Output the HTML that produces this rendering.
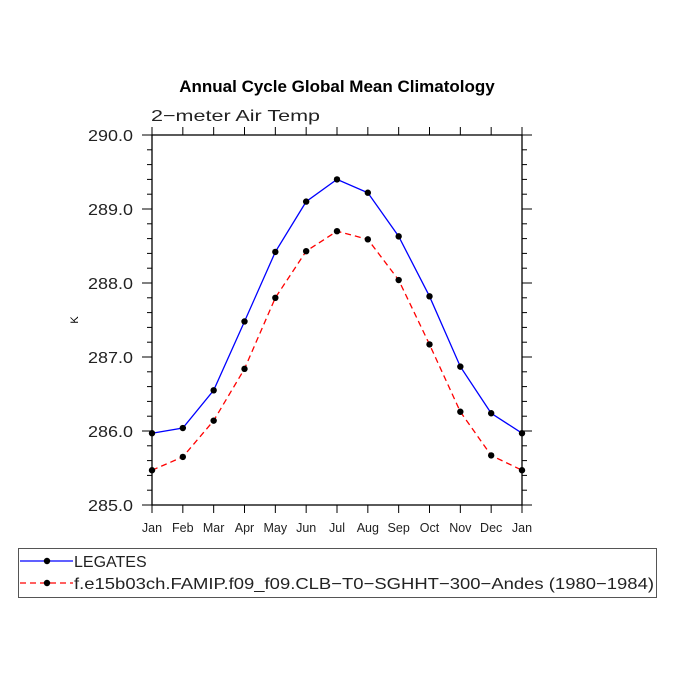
<!DOCTYPE html>
<html><head><meta charset="utf-8"><style>
html,body{margin:0;padding:0;background:#fff;}
svg{display:block;font-family:"Liberation Sans",sans-serif;}
</style></head><body>
<svg id="chart" width="675" height="675" viewBox="0 0 675 675">
<text x="337" y="92" text-anchor="middle" font-size="17" font-weight="bold">Annual Cycle Global Mean Climatology</text>
<text x="151" y="121" font-size="16" fill="#222" textLength="169" lengthAdjust="spacingAndGlyphs">2−meter Air Temp</text>
<text x="78" y="320" font-size="11" text-anchor="middle" transform="rotate(-90 78 320)">K</text>
<g id="axes"></g>
<g id="series"></g>
<g>
<rect x="18.5" y="548.5" width="638" height="49" fill="none" stroke="#555"/>
<g>
<line x1="20" y1="561" x2="73" y2="561" stroke="#0000ff" stroke-width="1.3"/>
<circle cx="47" cy="561" r="3.2" fill="#000"/>
<text x="74" y="567" font-size="16" fill="#222">LEGATES</text>
</g>
<g>
<line x1="20" y1="583" x2="73" y2="583" stroke="#ff0000" stroke-width="1.3" stroke-dasharray="6,4"/>
<circle cx="47" cy="583" r="3.2" fill="#000"/>
<text x="74" y="589" font-size="16" fill="#222" textLength="580" lengthAdjust="spacingAndGlyphs">f.e15b03ch.FAMIP.f09_f09.CLB−T0−SGHHT−300−Andes (1980−1984)</text>
</g>
</g>
</svg>
<script>
const months=["Jan","Feb","Mar","Apr","May","Jun","Jul","Aug","Sep","Oct","Nov","Dec","Jan"];
const legates=[285.97,286.04,286.55,287.48,288.42,289.10,289.40,289.22,288.63,287.82,286.87,286.24,285.97];
const model=[285.47,285.65,286.14,286.84,287.80,288.43,288.70,288.59,288.04,287.17,286.26,285.67,285.47];
const yTicks=[285,286,287,288,289,290];
const yTickLabels=["285.0","286.0","287.0","288.0","289.0","290.0"];

const L=152,R=522,T=135,B=505,yMin=285,yMax=290;
const xs=i=>L+(R-L)*i/(months.length-1);
const ys=v=>B-(B-T)*(v-yMin)/(yMax-yMin);
const NS="http://www.w3.org/2000/svg";
function mk(tag,attrs,parent){const e=document.createElementNS(NS,tag);for(const k in attrs)e.setAttribute(k,attrs[k]);parent.appendChild(e);return e;}
const ax=document.getElementById('axes');
const frame=mk('rect',{x:L,y:T,width:R-L,height:B-T,fill:'none',stroke:'#000','stroke-width':1.3},ax);


months.forEach((m,i)=>{
  const x=xs(i);
  mk('line',{x1:x,y1:B,x2:x,y2:B+8,stroke:'#000'},ax);
  mk('line',{x1:x,y1:T,x2:x,y2:T-8,stroke:'#000'},ax);
  const t=mk('text',{x:x,y:B+27,'text-anchor':'middle','font-size':12.5,fill:'#222'},ax);
  t.textContent=m;
  
  
});
yTicks.forEach((v,i)=>{
  const y=ys(v);
  mk('line',{x1:L-10,y1:y,x2:L,y2:y,stroke:'#000'},ax);
  mk('line',{x1:R,y1:y,x2:R+10,y2:y,stroke:'#000'},ax);
  const t=mk('text',{x:L-64,y:y+6,'font-size':16,fill:'#222',textLength:45,lengthAdjust:'spacingAndGlyphs'},ax);
  t.textContent=yTickLabels[i];
  
  
  if(i<yTicks.length-1){for(let k=1;k<5;k++){const yy=ys(v+k*0.2);
    mk('line',{x1:L-5,y1:yy,x2:L,y2:yy,stroke:'#000'},ax);
    mk('line',{x1:R,y1:yy,x2:R+5,y2:yy,stroke:'#000'},ax);}}
});
const sg=document.getElementById('series');
function draw(vals,color,dash,name){
  const g=mk('g',{},sg);
  
  
  const pts=vals.map((v,i)=>xs(i)+','+ys(v)).join(' ');
  const a={points:pts,fill:'none',stroke:color,'stroke-width':1.3};
  if(dash)a['stroke-dasharray']=dash;
  mk('polyline',a,g);
  vals.forEach((v,i)=>{const c=mk('circle',{cx:xs(i),cy:ys(v),r:3.2,fill:'#000'},g);
    
    });
}
draw(legates,'#0000ff',null,'legates-series');
draw(model,'#ff0000','6,4','model-series');
</script>
</body></html>
